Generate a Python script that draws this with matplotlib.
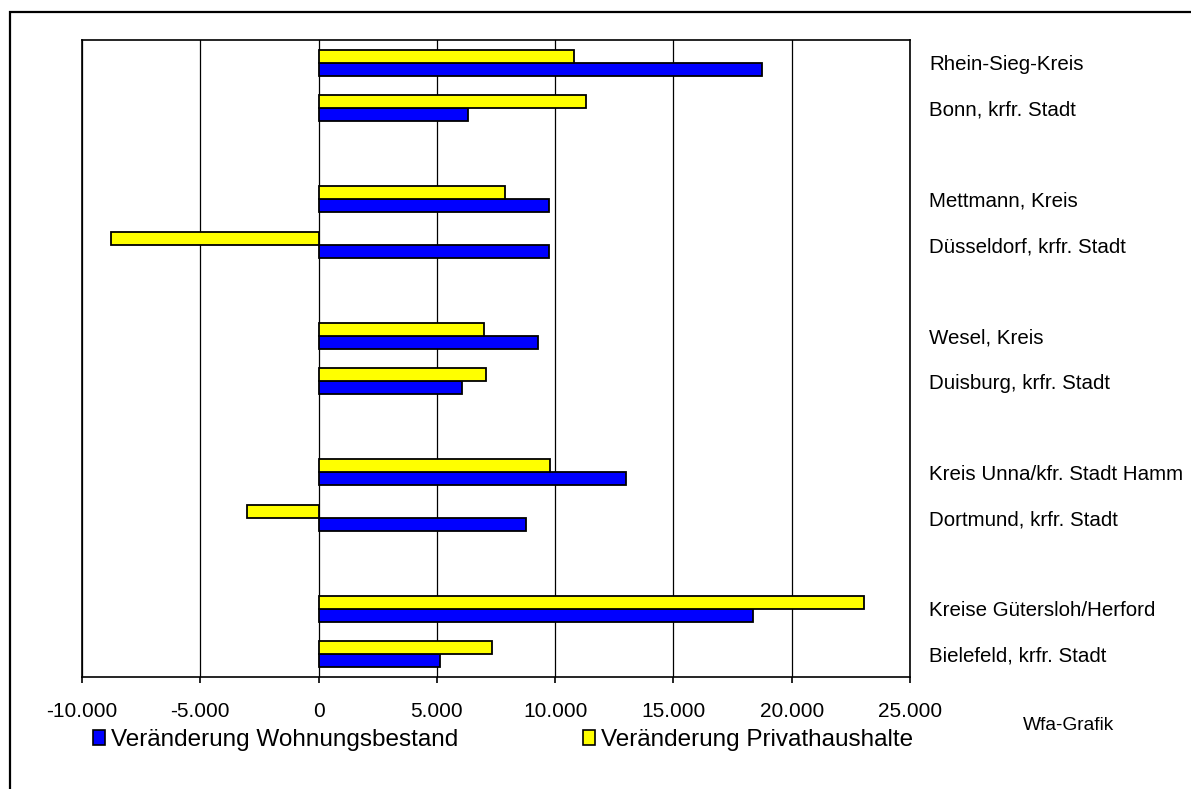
import matplotlib
matplotlib.use("Agg")
import matplotlib.pyplot as plt
from matplotlib.patches import Patch, Rectangle
from matplotlib.ticker import FuncFormatter, MultipleLocator

plt.rcParams['font.family'] = ['Liberation Sans', 'DejaVu Sans']

# Regionen von unten nach oben, leere Einträge = Abstand zwischen den Gruppen
regionen = ["Bielefeld, krfr. Stadt", "Kreise Gütersloh/Herford", "",
            "Dortmund, krfr. Stadt", "Kreis Unna/kfr. Stadt Hamm", "",
            "Duisburg, krfr. Stadt", "Wesel, Kreis", "",
            "Düsseldorf, krfr. Stadt", "Mettmann, Kreis", "",
            "Bonn, krfr. Stadt", "Rhein-Sieg-Kreis"]
wohnungsbestand = [5140, 18350, None, 8780, 12980, None, 6070, 9280, None,
                   9720, 9720, None, 6330, 18750]
privathaushalte = [7340, 23040, None, -3010, 9780, None, 7090, 6990, None,
                   -8790, 7870, None, 11300, 10790]

blau = "#0000ff"
gelb = "#ffff00"
h = 0.286

fig = plt.figure(figsize=(11.91, 7.89), dpi=100)
ax = fig.add_axes([82 / 1191, 1 - 677 / 789, (910 - 82) / 1191, (677 - 40) / 789])

pos = [i for i, v in enumerate(wohnungsbestand) if v is not None]
ax.barh([p - h / 2 for p in pos], [wohnungsbestand[p] for p in pos], height=h,
        color=blau, edgecolor="black", linewidth=1.3, zorder=3)
ax.barh([p + h / 2 for p in pos], [privathaushalte[p] for p in pos], height=h,
        color=gelb, edgecolor="black", linewidth=1.3, zorder=3)

ax.set_xlim(-10000, 25000)
ax.set_ylim(-0.5, len(regionen) - 0.5)
ax.xaxis.set_major_locator(MultipleLocator(5000))
ax.xaxis.set_major_formatter(FuncFormatter(lambda v, _: f"{int(v):,}".replace(",", ".")))
ax.grid(axis="x", color="black", linewidth=0.9, zorder=1)

ax.yaxis.tick_right()
ax.set_yticks(range(len(regionen)))
ax.set_yticklabels(regionen, fontsize=14.8)
ax.tick_params(axis="y", length=0, pad=14)
ax.tick_params(axis="x", direction="out", length=4, width=1.2, pad=14, labelsize=15)
for s in ax.spines.values():
    s.set_linewidth(1.2)

# Legende
leg1 = fig.legend(handles=[Patch(facecolor=blau, edgecolor="black", linewidth=1.2,
                                 label="Veränderung Wohnungsbestand")],
                  loc="center left", bbox_to_anchor=(93 / 1191, 1 - 740 / 789),
                  frameon=False, fontsize=17.5, handlelength=0.5, handleheight=0.55,
                  handletextpad=0.25, borderpad=0, borderaxespad=0)
leg2 = fig.legend(handles=[Patch(facecolor=gelb, edgecolor="black", linewidth=1.2,
                                 label="Veränderung Privathaushalte")],
                  loc="center left", bbox_to_anchor=(583 / 1191, 1 - 740 / 789),
                  frameon=False, fontsize=17.5, handlelength=0.5, handleheight=0.55,
                  handletextpad=0.25, borderpad=0, borderaxespad=0)

fig.text(1023 / 1191, 1 - 725 / 789, "Wfa-Grafik", fontsize=13.8, va="center", ha="left")

# Rahmen um die Grafik
fig.patches.append(Rectangle((10 / 1191, -0.2), 1.2, 1.2 - 12 / 789,
                             transform=fig.transFigure, fill=False,
                             edgecolor="black", linewidth=1.6))

fig.savefig("out.png", dpi=100)
